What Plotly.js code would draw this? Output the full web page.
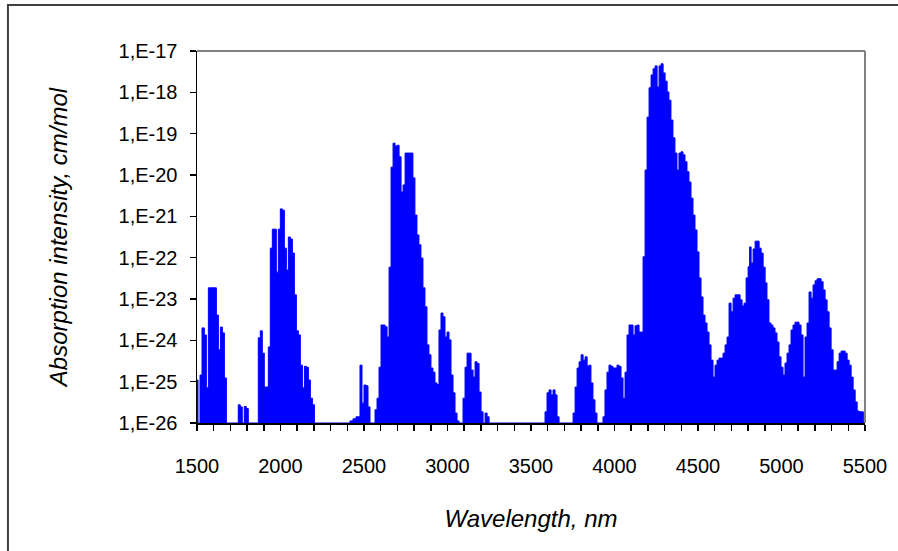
<!DOCTYPE html>
<html>
<head>
<meta charset="utf-8">
<script src="https://cdn.plot.ly/plotly-3.0.1.min.js"></script>
<style>
html,body{margin:0;padding:0;background:#fff;}
#chart{width:898px;height:551px;}
</style>
</head>
<body>
<div id="chart"></div>
<script>
// Wavelength (nm) at the left edge of each step of the spectrum
const wavelength = [
1500,1506,1518,1530,1544,1556,1568,1616,1628,1640,1652,1664,1676,1747,1759,1771,1783,1795,1807,
1867,1879,1891,1903,1927,1939,1951,1975,1987,1999,2011,2023,2035,2047,2059,2071,2083,2095,2107,
2119,2131,2143,2155,2167,2179,2191,2203,
2416,2434,2452,2476,2488,2500,2512,2524,2536,2566,2578,2590,2602,2626,2638,2650,2662,2674,2686,
2698,2710,2722,2734,2746,2793,2805,2817,2829,2841,2853,2865,2877,2889,2901,2913,2925,2937,2949,
2961,2973,2985,2997,3009,3021,3033,3045,3057,3069,3093,3105,3117,3141,3153,3165,3177,3189,3201,
3213,3225,3237,3249,
3584,3596,3608,3620,3632,3644,3656,3668,3752,3764,3776,3788,3800,3812,3824,3836,3848,3859,3871,
3883,3895,3931,3943,3955,3967,3979,3991,4015,4027,4039,4051,4063,4075,4087,4099,4111,4123,4135,
4147,4159,4171,4183,4195,4207,4219,4231,4243,4255,4267,4279,4291,4303,4315,4326,4338,4350,4362,
4374,4386,4398,4410,4422,4434,4446,4458,4470,4482,4494,4506,4518,4530,4542,4554,4566,4578,4590,
4602,4614,4626,4650,4662,4674,4686,4698,4710,4722,4752,4764,4776,4788,4800,4809,4818,4830,4842,
4866,4878,4890,4902,4913,4925,4937,4949,4961,4973,4985,4997,5009,5021,5033,5045,5057,5069,5081,
5105,5117,5129,5141,5153,5165,5177,5189,5201,5213,5237,5249,5261,5273,5285,5297,5309,5333,5345,
5357,5381,5393,5405,5417,5429,5441,5453,5465,5490,5500
];
// log10 of the absorption intensity (cm/mol), one per step
const log10Intensity = [
-24.96,-26,-24.84,-23.70,-23.87,-25.15,-22.73,-23.39,-24.23,-23.68,-23.82,-24.91,-26,-25.56,-25.61,-26,-25.60,-25.65,-26,
-23.94,-23.77,-24.31,-25.13,-24.16,-21.77,-21.31,-22.35,-21.31,-20.82,-20.85,-21.77,-22.30,-21.50,-21.55,-21.89,-22.90,-23.77,-23.87,
-24.60,-25.15,-24.63,-24.65,-24.96,-25.40,-25.56,-26,
-25.95,-25.90,-25.85,-24.60,-25.52,-25.08,-25.10,-25.61,-26,-25.68,-25.40,-24.65,-23.63,-23.67,-23.92,-22.23,-19.81,-19.23,-19.30,
-19.28,-19.56,-20.41,-20.24,-19.47,-20.07,-20.97,-21.45,-21.69,-22.01,-22.73,-23.19,-24.11,-24.35,-24.67,-24.77,-25.03,-25.07,-23.75,
-23.34,-23.43,-23.92,-23.80,-23.99,-24.84,-25.27,-25.76,-25.95,-26,-25.40,-24.65,-24.31,-24.72,-24.89,-24.52,-24.56,-25.25,-25.73,
-26,-25.76,-25.85,-26,
-25.73,-25.27,-25.20,-25.32,-25.20,-25.32,-25.85,-26,-25.76,-25.13,-24.67,-24.52,-24.35,-24.48,-24.40,-24.62,-24.60,-25.03,-25.44,
-25.76,-26,-25.85,-25.20,-24.77,-24.60,-24.63,-24.67,-24.60,-24.63,-24.91,-25.40,-24.77,-23.87,-23.63,-23.63,-23.87,-23.65,-23.63,
-23.80,-23.80,-21.98,-19.88,-18.60,-17.89,-17.58,-17.43,-17.36,-17.87,-17.36,-17.31,-17.53,-17.73,-17.99,-18.19,-18.67,-19.10,-19.47,
-19.88,-19.47,-19.44,-19.51,-19.68,-19.92,-20.17,-20.56,-20.97,-21.33,-21.86,-22.49,-22.95,-23.39,-23.58,-23.80,-24.11,-24.48,-24.89,
-24.60,-24.48,-24.43,-24.31,-24.11,-23.92,-23.10,-23.31,-22.98,-22.90,-23.02,-23.17,-23.10,-22.49,-22.22,-21.74,-22.13,-21.79,-21.60,
-21.77,-21.89,-22.23,-22.61,-23.02,-23.58,-23.63,-23.70,-23.82,-24.04,-24.40,-24.65,-24.84,-24.55,-24.31,-24.11,-23.75,-23.63,-23.56,
-23.63,-23.87,-24.89,-23.92,-23.58,-22.83,-22.98,-22.66,-22.56,-22.51,-22.58,-22.78,-23.02,-23.31,-23.70,-24.23,-24.72,-24.52,-24.31,
-24.26,-24.31,-24.48,-24.60,-24.89,-25.20,-25.49,-25.71,-25.73,-26,-26
];
const xTickValues = [1500,2000,2500,3000,3500,4000,4500,5000,5500];
const yTickValues = [1e-26,1e-25,1e-24,1e-23,1e-22,1e-21,1e-20,1e-19,1e-18,1e-17];
const yTickLabels = ['1,E-26','1,E-25','1,E-24','1,E-23','1,E-22','1,E-21','1,E-20','1,E-19','1,E-18','1,E-17'];

const intensity = log10Intensity.map(v => Math.pow(10, v));
const FONT = 'Liberation Sans, Arial, sans-serif';

const traces = [{
  type: 'scatter',
  mode: 'lines',
  x: wavelength,
  y: intensity,
  line: {shape: 'hv', color: '#0000ff', width: 1},
  fill: 'tozeroy',
  fillcolor: '#0000ff',
  hoverinfo: 'x+y',
  showlegend: false
}];

const layout = {
  width: 898, height: 551,
  margin: {l: 197, r: 33, t: 51, b: 128, pad: 0},
  paper_bgcolor: '#ffffff',
  plot_bgcolor: '#ffffff',
  font: {family: FONT, color: '#000000'},
  showlegend: false,
  xaxis: {
    type: 'linear',
    range: [1500, 5500],
    tickvals: xTickValues,
    ticks: 'outside', ticklen: 6, tickwidth: 1.5, tickcolor: '#000',
    minor: {dtick: 100, tick0: 1500, ticks: 'outside', ticklen: 6, tickwidth: 1.5, tickcolor: '#000', showgrid: false},
    showline: true, linecolor: '#000', linewidth: 1.5,
    showgrid: false, zeroline: false,
    tickfont: {size: 20, family: FONT},
    ticklabelstandoff: 18,
    title: {text: 'Wavelength, nm', font: {size: 24, style: 'italic', family: FONT}, standoff: 34},
    fixedrange: true
  },
  yaxis: {
    type: 'log',
    range: [-26, -17],
    tickvals: yTickValues,
    ticktext: yTickLabels,
    ticks: 'outside', ticklen: 6, tickwidth: 1.5, tickcolor: '#000',
    showline: true, linecolor: '#000', linewidth: 1.5,
    showgrid: false, zeroline: false,
    tickfont: {size: 20, family: FONT},
    ticklabelstandoff: 8,
    title: {text: 'Absorption intensity, cm/mol', font: {size: 24, style: 'italic', family: FONT}, standoff: 44},
    fixedrange: true
  },
  shapes: [
    {type: 'line', xref: 'paper', yref: 'paper', x0: 0, x1: 1, y0: 1, y1: 1, line: {color: '#808080', width: 2}},
    {type: 'line', xref: 'paper', yref: 'paper', x0: 1, x1: 1, y0: 0, y1: 1, line: {color: '#808080', width: 2}},
    {type: 'rect', xref: 'paper', yref: 'paper', x0: -0.283, x1: 1.1, y0: -0.4, y1: 1.1237, line: {color: '#404040', width: 2}, fillcolor: 'rgba(0,0,0,0)', layer: 'below'}
  ]
};

Plotly.newPlot('chart', traces, layout, {displayModeBar: false, staticPlot: true});
</script>
</body>
</html>
